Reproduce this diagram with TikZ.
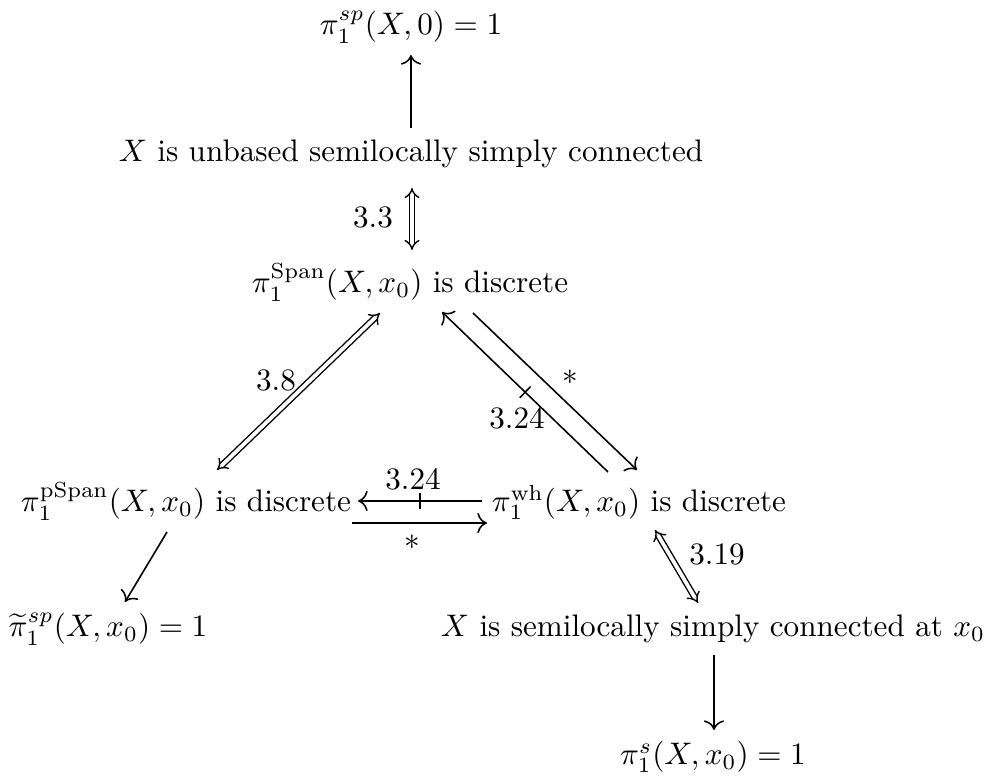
\documentclass[tikz,border=0pt]{standalone}
\usepackage{amsmath}
\usetikzlibrary{cd,calc,arrows.meta,decorations.markings}
\begin{document}
\begin{tikzpicture}[x=0.321pt,y=-0.321pt,
  lbl/.style={inner sep=0pt},
  txt/.style={anchor=base,inner sep=0pt},
  arr/.style={-cm to,line width=0.5pt},
  darr/.style={double,double distance=1.2pt,line width=0.45pt,{Implies[scale=1.15]}-{Implies[scale=1.15]}},
  tick/.style={postaction={decorate},decoration={markings,mark=at position 0.5 with {\draw[-,line width=0.5pt] (0,-2.5pt) -- (0,2.5pt);}}}]
\useasboundingbox (0,0) rectangle (988,777);
% nodes
\node[txt] (top)   at (411,35)  {$\pi_1^{sp}(X,0)=1$};
\node[txt] (unb)   at (411,162) {$X$ is unbased semilocally simply connected};
\node[txt] (span)  at (410,293) {$\pi_1^{\mathrm{Span}}(X,x_0)$ is discrete};
\node[txt] (pspan) at (186,512) {$\pi_1^{\mathrm{pSpan}}(X,x_0)$ is discrete};
\node[txt] (wh)    at (639,512) {$\pi_1^{\mathrm{wh}}(X,x_0)$ is discrete};
\node[txt] (tsp)   at (108,637) {$\widetilde{\pi}_1^{sp}(X,x_0)=1$};
\node[txt] (semi)  at (713,637) {$X$ is semilocally simply connected at $x_0$};
\node[txt] (ps)    at (713,765) {$\pi_1^{s}(X,x_0)=1$};
% labels
\node[lbl] (l33)  at (373,217) {$3.3$};
\node[lbl] (l38)  at (276,380) {$3.8$};
\node[lbl] (l324a) at (517,418) {$3.24$};
\node[lbl] (ls1)  at (570,377) {$*$};
\node[lbl] (l324b) at (413,479) {$3.24$};
\node[lbl] (ls2)  at (412,542) {$*$};
\node[lbl] (l319) at (717,554) {$3.19$};
% connectors
\draw[arr] ($(unb.base)+(0,-34)$) -- ($(top.base)+(0,20)$);
\draw[darr] ($(unb.base)+(1,26)$) -- ($(span.base)+(2,-43)$);
\draw[darr] ($(span.base)+(-30,20)$) -- ($(pspan.base)+(31,-42)$);
\draw[arr,tick] ($(wh.base)+(-31,-40)$) -- ($(span.base)+(32,19)$);
\draw[arr] ($(span.base)+(63,20)$) -- ($(wh.base)+(-2,-42)$);
\draw[arr,tick] ($(wh.base)+(-157,-11)$) -- ($(pspan.base)+(172,-11)$);
\draw[arr] ($(pspan.base)+(166,11)$) -- ($(wh.base)+(-152,11)$);
\draw[arr] ($(pspan.base)+(-19,20)$) -- ($(tsp.base)+(17,-35)$);
\draw[darr] ($(wh.base)+(16,18)$) -- ($(semi.base)+(-15,-34)$);
\draw[arr] ($(semi.base)+(1,18)$) -- ($(ps.base)+(1,-35)$);
\end{tikzpicture}
\end{document}
